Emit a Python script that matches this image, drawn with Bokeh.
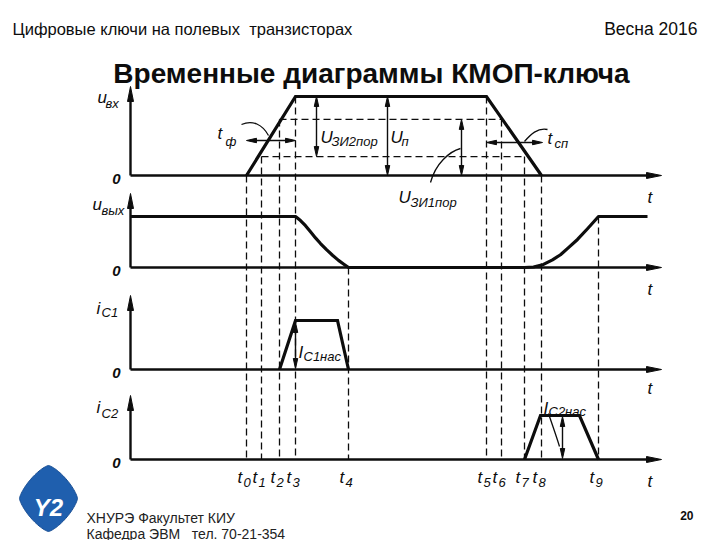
import numpy as np
from bokeh.plotting import figure
from bokeh.models import Range1d
from bokeh.embed import file_html
from bokeh.resources import INLINE
from bokeh.core.properties import value

NB = "\u00a0"
# ---------------- texts ----------------
HEADER_LEFT = "Цифровые ключи на полевых" + NB + " транзисторах"
HEADER_RIGHT = "Весна 2016"
TITLE = "Временные диаграммы КМОП-ключа"
FOOTER_1 = "ХНУРЭ Факультет КИУ"
FOOTER_2 = "Кафедра ЭВМ" + NB + NB + " тел. 70-21-354"
PAGE_NO = "20"

# ---------------- data ----------------
# time instants t0..t9 (time units)
T = [246, 261, 279, 295, 348, 486, 501, 524, 541, 598]
T_SUB = ["0", "1", "2", "3", "4", "5", "6", "7", "8", "9"]
T_ORIGIN = 130
T_END = 661

# u_vx (normalised to U_p)
U_IN_T = [T[0], T[3], T[5], T[8]]
U_IN = [0, 1, 1, 0]
U_THR_HI = 0.71   # upper dashed level
U_THR_LO = 0.24   # lower dashed level

# u_vyx (normalised)
U_OUT_T = [130, 295, 300, 305, 310, 315, 320, 326, 332, 338, 343, 348,
           524, 533, 543, 552, 560, 568, 577, 587, 598, 647]
U_OUT = [1, 1, 0.92, 0.82, 0.70, 0.58, 0.47, 0.35, 0.24, 0.14, 0.07, 0,
         0, 0.01, 0.06, 0.15, 0.25, 0.39, 0.55, 0.76, 1, 1]

# drain currents (normalised to saturation)
I_C1_T = [T[2], T[3], 337, T[4]]
I_C1 = [0, 1, 1, 0]
I_C2_T = [T[7], 540, 579, T[9]]
I_C2 = [0, 1, 1, 0]

# ---------------- layout (pixels) ----------------
PANEL_ZERO = [175, 267, 369, 459]
PANEL_SCALE = [79, 51, 49, 44]
AXIS_TIP = [86, 193, 295, 395]

W, H = 720, 540
p = figure(width=W, height=H, x_range=Range1d(0, W), y_range=Range1d(H, 0),
           output_backend="svg", toolbar_location=None, min_border=0,
           x_axis_type=None, y_axis_type=None, background_fill_color="white",
           border_fill_color="white")
p.grid.visible = False
p.outline_line_color = None

INK = "#0d0d0d"
FONT = "Liberation Sans"


def Y(k, v):
    return [PANEL_ZERO[k] - vv * PANEL_SCALE[k] for vv in v]


heads_x, heads_y = [], []


def head(tx, ty, dx, dy, L, Wd):
    px, py = -dy, dx
    bx, by = tx - dx * L, ty - dy * L
    heads_x.append([tx, bx + px * Wd / 2, bx - px * Wd / 2])
    heads_y.append([ty, by + py * Wd / 2, by - py * Wd / 2])


def txt(x, y, s, size, style="normal", align="left", color=INK, font=FONT):
    p.text(x=[x], y=[y], text=[s], text_font=value(font), text_font_size=f"{size}px",
           text_font_style=style, text_align=align, text_baseline="alphabetic",
           text_color=color)


# ---------------- dashed construction lines ----------------
lev_in = {"zero": Y(0, [0])[0], "lo": Y(0, [U_THR_LO])[0], "hi": Y(0, [U_THR_HI])[0], "top": Y(0, [1])[0]}
dash_top = [lev_in["zero"], lev_in["lo"], lev_in["hi"], lev_in["top"], Y(1, [0])[0],
            lev_in["top"], lev_in["hi"], lev_in["lo"], lev_in["zero"], Y(1, [1])[0]]
bottom = PANEL_ZERO[3]
p.segment(x0=T, y0=dash_top, x1=T, y1=[bottom] * len(T), line_color=INK,
          line_width=1.3, line_dash="7 4")
p.segment(x0=[T[2], T[1]], y0=[lev_in["hi"], lev_in["lo"]],
          x1=[T[6], T[7]], y1=[lev_in["hi"], lev_in["lo"]],
          line_color=INK, line_width=1.3, line_dash="7 4")

# ---------------- axes ----------------
for k in range(4):
    z = PANEL_ZERO[k]
    p.segment(x0=[T_ORIGIN, T_ORIGIN], y0=[z, z], x1=[T_ORIGIN, T_END - 8], y1=[AXIS_TIP[k] + 8, z],
              line_color=INK, line_width=2.4)
    head(T_ORIGIN, AXIS_TIP[k], 0, -1, 15, 6)
    head(T_END, z, 1, 0, 15, 6)

# ---------------- signals ----------------
p.line(U_IN_T, Y(0, U_IN), line_color=INK, line_width=3.2, line_join="miter")
p.line(U_OUT_T, Y(1, U_OUT), line_color=INK, line_width=3.2, line_join="round")
p.line(I_C1_T, Y(2, I_C1), line_color=INK, line_width=3.2, line_join="miter")
p.line(I_C2_T, Y(3, I_C2), line_color=INK, line_width=3.2, line_join="miter")

# ---------------- dimension arrows ----------------
dims_h = [(140, T[0], T[3]), (142, T[5], T[8] + 1)]
for yy, xa, xb in dims_h:
    p.segment(x0=[xa + 4], y0=[yy], x1=[xb - 4], y1=[yy], line_color=INK, line_width=1.4)
    head(xa, yy, -1, 0, 10, 4.5)
    head(xb, yy, 1, 0, 10, 4.5)

dims_v = [(316, lev_in["top"], lev_in["lo"]), (387, lev_in["top"], lev_in["zero"]),
          (461, lev_in["hi"], lev_in["zero"]),
          (T[3], Y(2, [1])[0] + 2, PANEL_ZERO[2] - 1), (562, Y(3, [1])[0] + 1, PANEL_ZERO[3] - 1)]
for xx, ya, yb in dims_v:
    p.segment(x0=[xx], y0=[ya + 4], x1=[xx], y1=[yb - 4], line_color=INK, line_width=1.4)
    head(xx, ya, 0, -1, 10, 4.5)
    head(xx, yb, 0, 1, 10, 4.5)

p.patches(heads_x, heads_y, fill_color=INK, line_color=INK, line_width=1)

# leaders
p.bezier(x0=[241, 547, 430, 548], y0=[124, 129, 182, 413],
         x1=[268, 524, 460, 559], y1=[135, 141, 148, 446],
         cx0=[252, 537, 435, 552], cy0=[119, 127, 163, 425],
         cx1=[262, 530, 449, 556], cy1=[124, 134, 151, 436],
         line_color=INK, line_width=1.3)

# ---------------- labels ----------------
LBL = 17
SUB = 13
# y axis names
txt(97, 97, "u", LBL, "italic"); txt(105, 103, "вх", SUB, "italic")
txt(92, 204, "u", LBL, "italic"); txt(101, 210, "вых", SUB, "italic")
txt(96, 308, "i", LBL, "italic"); txt(101, 312, "С1", SUB, "italic")
txt(96, 407, "i", LBL, "italic"); txt(101, 413, "С2", SUB, "italic")
for k in range(4):
    txt(116, PANEL_ZERO[k] + 3, "0", 15, "bold italic", "center")
t_base = [197, 289, 388, 481]
for k in range(4):
    txt(647, t_base[k], "t", LBL, "italic")

# time instants
for t, s in zip(T, T_SUB):
    txt(t - 9, 477, "t", LBL, "italic")
    txt(t - 3, 482, s, SUB, "italic")

# annotations
txt(217, 133, "t", LBL, "italic"); txt(225, 141, "ф", SUB, "italic")
txt(547, 138, "t", LBL, "italic"); txt(554, 143, "сп", SUB, "italic")
txt(320, 137, "U", LBL, "italic"); txt(331, 141, "ЗИ2пор", SUB, "italic")
txt(390, 137, "U", LBL, "italic"); txt(401, 141, "п", SUB, "italic")
txt(398, 197, "U", LBL, "italic"); txt(410, 202, "ЗИ1пор", SUB, "italic")
txt(298, 352, "I", LBL, "italic"); txt(303, 356, "С1нас", SUB, "italic")
txt(543, 408, "I", LBL, "italic"); txt(548, 411, "С2нас", SUB, "italic")

# ---------------- slide texts ----------------
txt(12, 28, HEADER_LEFT, 16.5)
txt(697, 28, HEADER_RIGHT, 17.5, align="right")
txt(371, 73, TITLE, 28, "bold", "center")
txt(86, 517, FOOTER_1, 14, color="#222222")
txt(86, 533, FOOTER_2, 14, color="#222222")
txt(693, 515, PAGE_NO, 12, "bold", "right")

# logo
th = np.linspace(0, 2 * np.pi, 120)
c, s_ = np.cos(th), np.sin(th)
pw = 1.35
rx = np.sign(c) * np.abs(c) ** (2 / pw)
ry = np.sign(s_) * np.abs(s_) ** (2 / pw)
p.patch(list(48 + 29 * rx), list(498 + 33 * ry), fill_color="#1f5fae", line_color="#1a4f94", line_width=1)
txt(48, 507, "Y2", 24, "bold italic", "center", color="white")

open("out.html", "w").write(file_html(p, INLINE))
